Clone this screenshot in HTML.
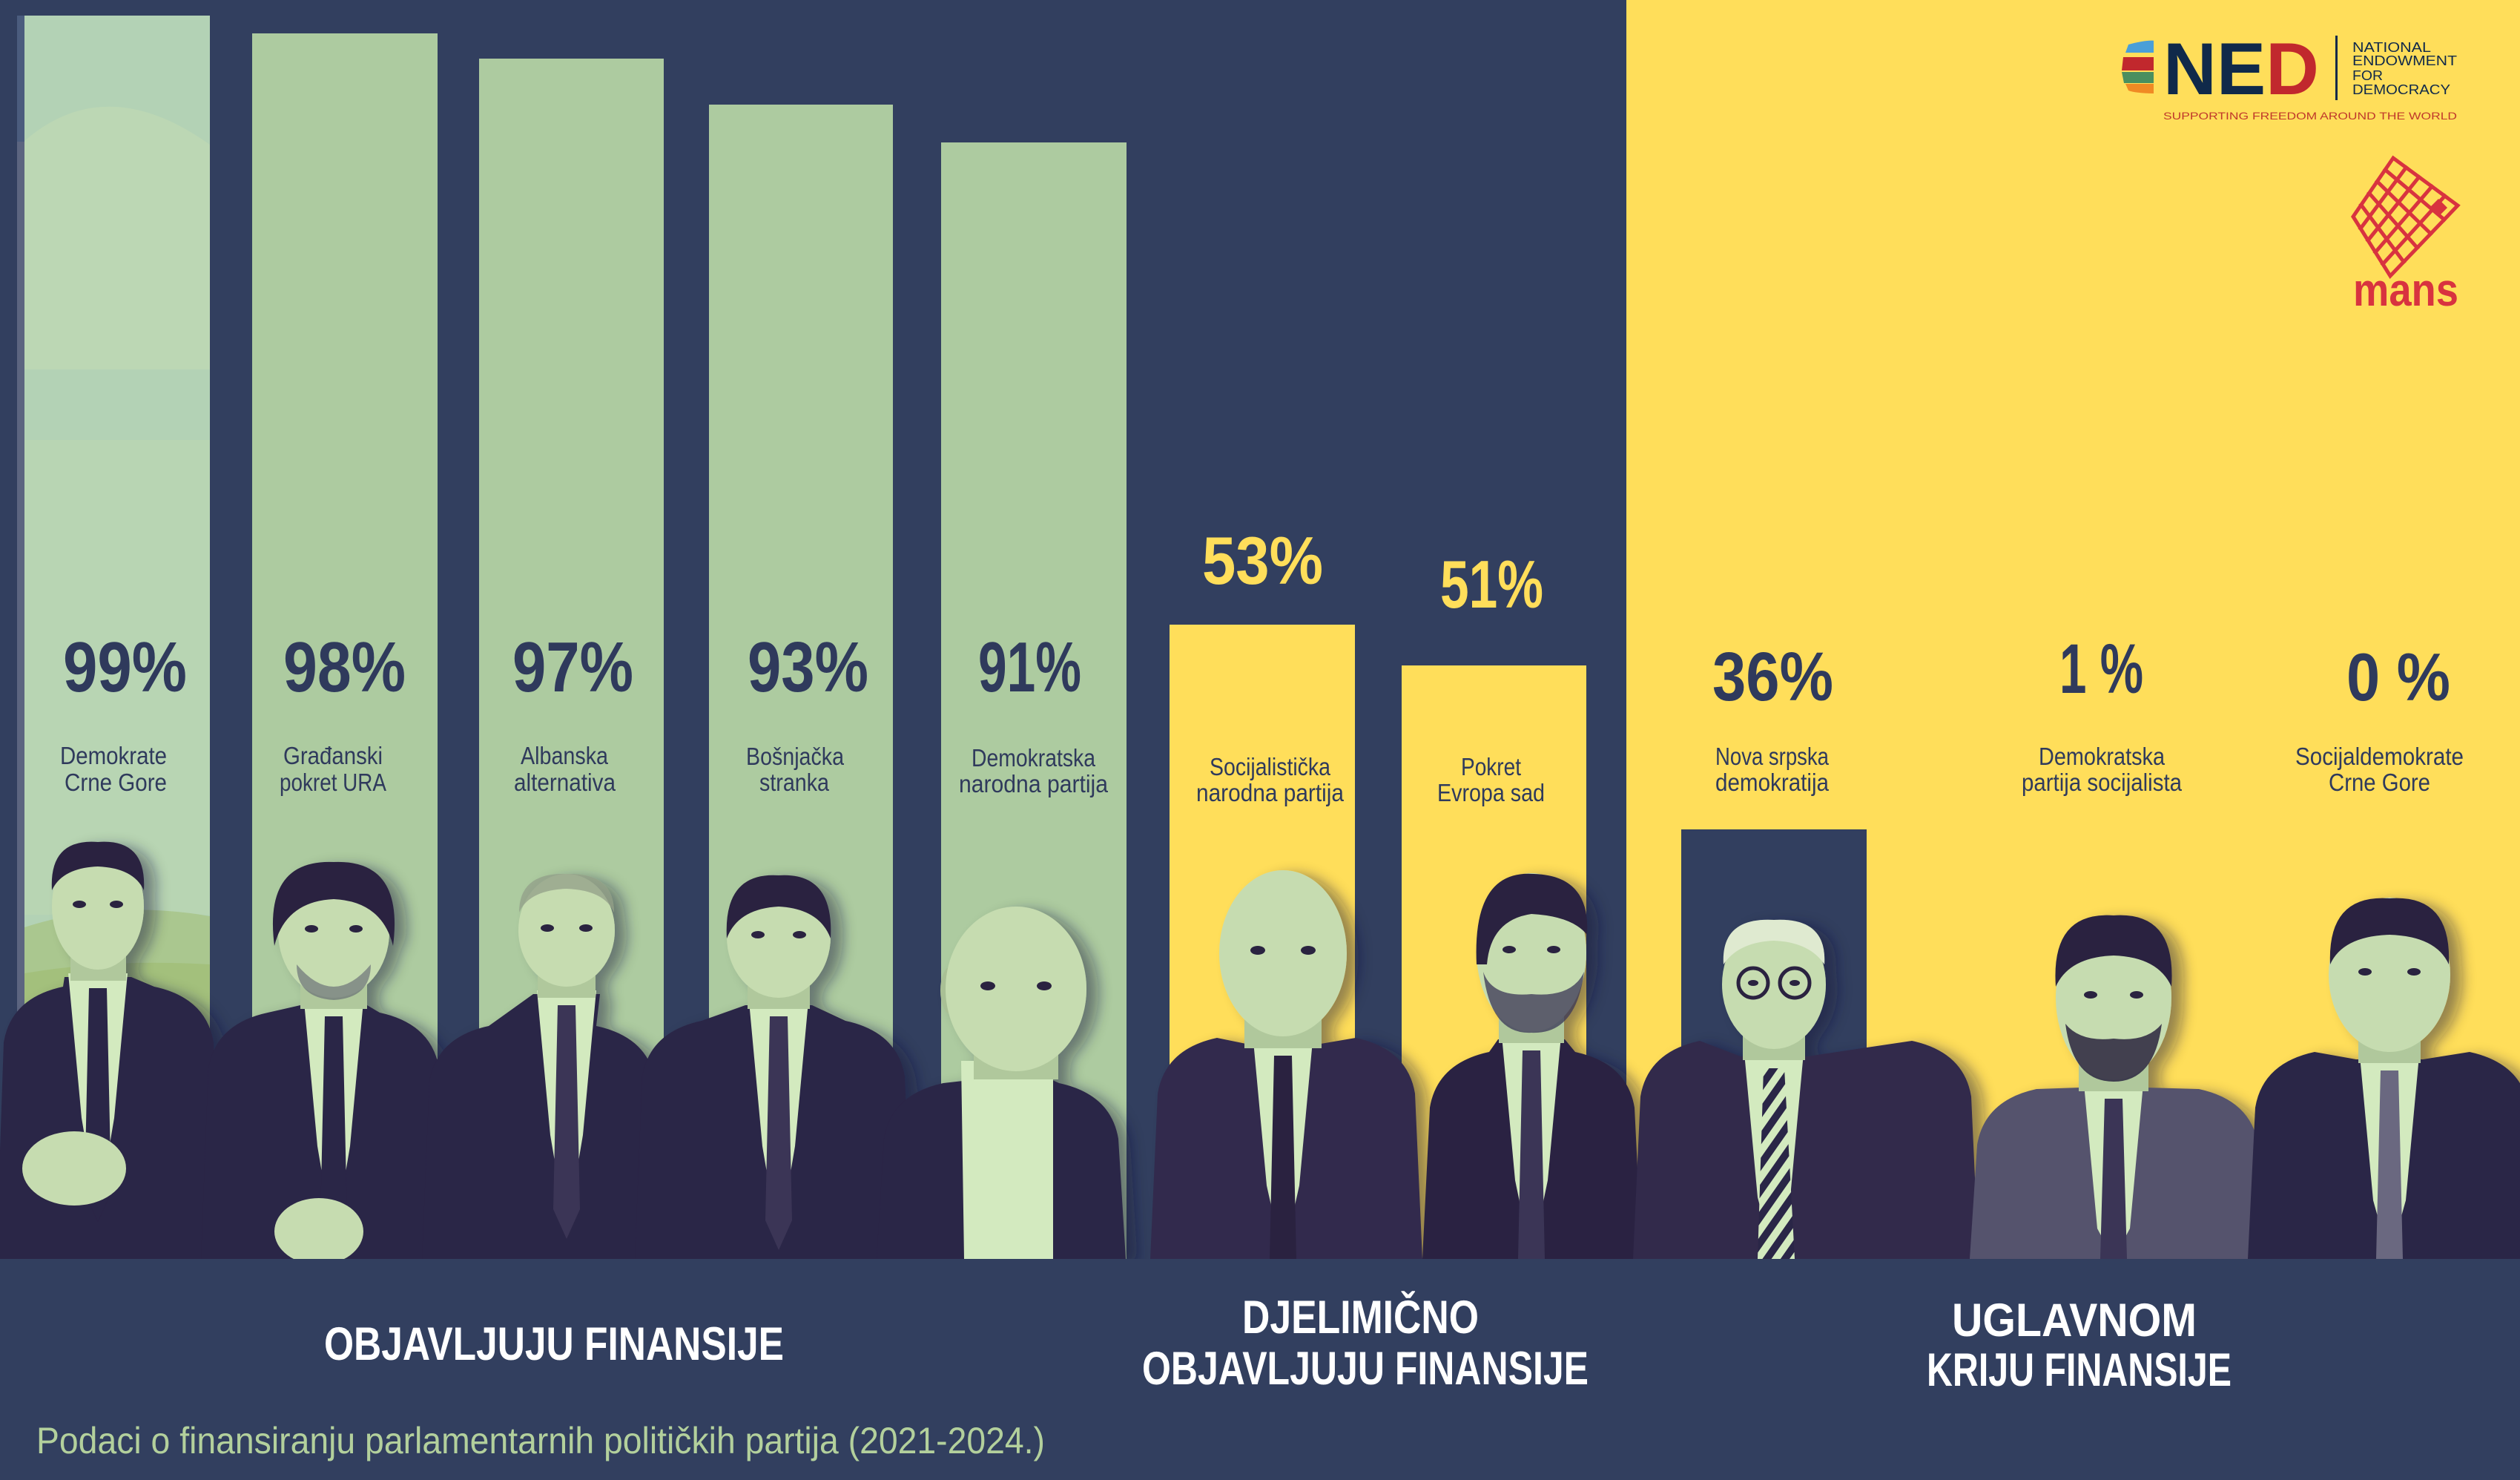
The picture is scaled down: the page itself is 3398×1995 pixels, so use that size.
<!DOCTYPE html>
<html><head><meta charset="utf-8"><style>
html,body{margin:0;padding:0;background:#323f5f;}
svg{display:block;}
</style></head><body>
<svg width="3398" height="1995" viewBox="0 0 3398 1995" xmlns="http://www.w3.org/2000/svg" font-family="'Liberation Sans', sans-serif">
<defs>
<filter id="ds" x="-20%" y="-20%" width="140%" height="140%">
<feDropShadow dx="16" dy="6" stdDeviation="9" flood-color="#1a1b3a" flood-opacity="0.45"/>
</filter>
<pattern id="stripe" width="20" height="20" patternUnits="userSpaceOnUse" patternTransform="rotate(35)">
<rect width="20" height="20" fill="#d3eabf"/><rect width="10" height="20" fill="#2c2546"/>
</pattern>
<clipPath id="globe"><rect x="2860" y="50" width="44" height="82"/></clipPath>
</defs>

<!-- backgrounds -->
<rect x="0" y="0" width="3398" height="1995" fill="#323f5f"/>
<rect x="2193" y="0" width="1205" height="1697" fill="#ffde5a"/>

<!-- bar 1 -->
<rect x="23" y="21" width="10" height="170" fill="#4b5c7e"/>
<rect x="23" y="191" width="10" height="1506" fill="#5c6580"/>
<rect x="33" y="21" width="250" height="1676" fill="#b3d2b5"/>
<path d="M33,190 Q143,95 283,195 L283,498 L33,498 Z" fill="#bcd7b4"/>
<rect x="33" y="593" width="250" height="640" fill="#b8d5b3"/>
<path d="M33,1250 Q150,1212 283,1235 L283,1697 L33,1697 Z" fill="#aac78f"/>
<path d="M33,1312 Q150,1292 283,1300 L283,1697 L33,1697 Z" fill="#a3c07c"/>
<!-- bars 2-5 -->
<rect x="340" y="45" width="250" height="1652" fill="#adcba0"/>
<rect x="646" y="79" width="249" height="1618" fill="#adcba0"/>
<rect x="956" y="141" width="248" height="1556" fill="#adcba0"/>
<rect x="1269" y="192" width="250" height="1505" fill="#adcba0"/>
<!-- yellow bars -->
<rect x="1577" y="842" width="250" height="855" fill="#ffde5a"/>
<rect x="1890" y="897" width="249" height="800" fill="#ffde5a"/>
<!-- navy bar on yellow -->
<rect x="2267" y="1118" width="250" height="579" fill="#323f5f"/>

<!-- percentages -->
<g font-weight="bold" fill="#2f3a5c">
<text x="85" y="932" font-size="96" textLength="167" lengthAdjust="spacingAndGlyphs">99%</text>
<text x="382" y="932" font-size="96" textLength="165" lengthAdjust="spacingAndGlyphs">98%</text>
<text x="691" y="932" font-size="96" textLength="163" lengthAdjust="spacingAndGlyphs">97%</text>
<text x="1008" y="932" font-size="96" textLength="163" lengthAdjust="spacingAndGlyphs">93%</text>
<text x="1319" y="932" font-size="96" textLength="139" lengthAdjust="spacingAndGlyphs">91%</text>
<text x="2309" y="944" font-size="93" textLength="163" lengthAdjust="spacingAndGlyphs">36%</text>
<text x="2777" y="934" font-size="95" textLength="113" lengthAdjust="spacingAndGlyphs">1 %</text>
<text x="3164" y="944" font-size="91" textLength="140" lengthAdjust="spacingAndGlyphs">0 %</text>
</g>
<g font-weight="bold" fill="#ffde5a">
<text x="1621" y="787" font-size="91" textLength="163" lengthAdjust="spacingAndGlyphs">53%</text>
<text x="1942" y="819" font-size="91" textLength="139" lengthAdjust="spacingAndGlyphs">51%</text>
</g>

<!-- labels -->
<g font-size="33" fill="#2f3a5c">
<text x="81" y="1030" textLength="144" lengthAdjust="spacingAndGlyphs">Demokrate</text>
<text x="87" y="1066" textLength="138" lengthAdjust="spacingAndGlyphs">Crne Gore</text>
<text x="382" y="1030" textLength="134" lengthAdjust="spacingAndGlyphs">Građanski</text>
<text x="377" y="1066" textLength="144" lengthAdjust="spacingAndGlyphs">pokret URA</text>
<text x="702" y="1030" textLength="118" lengthAdjust="spacingAndGlyphs">Albanska</text>
<text x="693" y="1066" textLength="137" lengthAdjust="spacingAndGlyphs">alternativa</text>
<text x="1006" y="1031" textLength="132" lengthAdjust="spacingAndGlyphs">Bošnjačka</text>
<text x="1024" y="1066" textLength="94" lengthAdjust="spacingAndGlyphs">stranka</text>
<text x="1310" y="1033" textLength="167" lengthAdjust="spacingAndGlyphs">Demokratska</text>
<text x="1293" y="1068" textLength="201" lengthAdjust="spacingAndGlyphs">narodna partija</text>
<text x="1631" y="1045" textLength="163" lengthAdjust="spacingAndGlyphs">Socijalistička</text>
<text x="1613" y="1080" textLength="199" lengthAdjust="spacingAndGlyphs">narodna partija</text>
<text x="1970" y="1045" textLength="81" lengthAdjust="spacingAndGlyphs">Pokret</text>
<text x="1938" y="1080" textLength="145" lengthAdjust="spacingAndGlyphs">Evropa sad</text>
<text x="2313" y="1031" textLength="153" lengthAdjust="spacingAndGlyphs">Nova srpska</text>
<text x="2313" y="1066" textLength="153" lengthAdjust="spacingAndGlyphs">demokratija</text>
<text x="2749" y="1031" textLength="170" lengthAdjust="spacingAndGlyphs">Demokratska</text>
<text x="2726" y="1066" textLength="216" lengthAdjust="spacingAndGlyphs">partija socijalista</text>
<text x="3095" y="1031" textLength="227" lengthAdjust="spacingAndGlyphs">Socijaldemokrate</text>
<text x="3140" y="1066" textLength="137" lengthAdjust="spacingAndGlyphs">Crne Gore</text>
</g>

<!-- NED logo -->
<g clip-path="url(#globe)">
<circle cx="2905" cy="92" r="42" fill="#ffde5a"/>
<path d="M2870,60 Q2900,52 2910,56 L2910,71 L2866,71 Z" fill="#4a9fd8"/>
<path d="M2863,77 L2910,77 L2910,95 L2861,95 Z" fill="#c1282d"/>
<path d="M2861,97 L2910,97 L2910,112 L2864,112 Z" fill="#4a8f5f"/>
<path d="M2866,113 L2910,113 L2910,126 Q2880,126 2870,122 Z" fill="#f08a24"/>
</g>
<text x="2917" y="127" font-size="99" font-weight="bold" textLength="210" lengthAdjust="spacingAndGlyphs"><tspan fill="#10294a">NE</tspan><tspan fill="#c1282d">D</tspan></text>
<rect x="3149" y="48" width="3" height="87" fill="#10294a"/>
<g font-size="18" fill="#10294a">
<text x="3172" y="70" textLength="106" lengthAdjust="spacingAndGlyphs">NATIONAL</text>
<text x="3172" y="88" textLength="141" lengthAdjust="spacingAndGlyphs">ENDOWMENT</text>
<text x="3172" y="108" textLength="41" lengthAdjust="spacingAndGlyphs">FOR</text>
<text x="3172" y="127" textLength="132" lengthAdjust="spacingAndGlyphs">DEMOCRACY</text>
</g>
<text x="2917" y="161" font-size="14" fill="#c0392b" textLength="396" lengthAdjust="spacingAndGlyphs">SUPPORTING FREEDOM AROUND THE WORLD</text>

<!-- mans logo -->
<g stroke="#d8333f" stroke-width="5" fill="none" stroke-linecap="square">
<path d="M3227,213 L3314,277 L3223,372 L3173,292 Z"/>
<path d="M3216.2,228.8 L3295.8,296 M3205.4,244.6 L3277.6,315 M3194.6,260.4 L3259.4,334 M3183.8,276.2 L3241.2,353"/>
<path d="M3244.4,225.8 L3183,308 M3261.8,238.6 L3193,324 M3279.2,251.4 L3203,340 M3296.6,264.2 L3213,356"/>
</g>
<polygon points="3288,268 3300,280 3288,292 3276,280" fill="#d8333f"/>
<text x="3173" y="412" font-size="62" font-weight="bold" fill="#d8333f" textLength="142" lengthAdjust="spacingAndGlyphs">mans</text>

<!-- people -->
<g filter="url(#ds)">
<!-- P1 -->
<g>
<path d="M-5,1697 L5,1405 Q15,1345 85,1330 L87,1317 L177,1317 L208,1330 Q278,1345 288,1405 L298,1697 Z" fill="#2c2546"/>
<polygon points="92,1312 172,1312 154,1507 132,1637 110,1507" fill="#d3eabf"/>
<polygon points="120,1332 144,1332 150,1607 132,1647 114,1607" fill="#2c2546"/>
<rect x="95" y="1267" width="75" height="55" fill="#b0c89c"/>
<ellipse cx="132" cy="1222" rx="62" ry="85" fill="#c6dcb0"/>
<path d="M70,1200 Q66,1130 132,1135 Q198,1130 194,1200 Q180,1170 132,1168 Q84,1170 70,1200 Z" fill="#2a2340"/>
<ellipse cx="100" cy="1575" rx="70" ry="50" fill="#c6dcb0"/>
</g>
<!-- P2 -->
<g>
<path d="M271,1697 L281,1440 Q291,1380 361,1365 L405,1355 L495,1355 L512,1365 Q582,1380 592,1440 L602,1697 Z" fill="#2c2546"/>
<polygon points="410,1350 490,1350 472,1545 450,1675 428,1545" fill="#d3eabf"/>
<polygon points="438,1370 462,1370 468,1645 450,1685 432,1645" fill="#2c2546"/>
<rect x="405" y="1305" width="90" height="55" fill="#b0c89c"/>
<ellipse cx="450" cy="1256" rx="75" ry="89" fill="#c6dcb0"/>
<path d="M370,1275 Q355,1158 450,1162 Q545,1158 530,1275 Q515,1215 450,1212 Q385,1215 370,1275 Z" fill="#2a2340"/>
<path d="M400,1300 Q450,1360 500,1300 Q500,1345 450,1348 Q400,1345 400,1300 Z" fill="#5d6070" opacity="0.6"/>
<ellipse cx="430" cy="1660" rx="60" ry="45" fill="#c6dcb0"/>
</g>
<!-- P3 -->
<g>
<path d="M569,1697 L579,1458 Q589,1398 659,1383 L719,1340 L809,1340 L804,1383 Q874,1398 884,1458 L894,1697 Z" fill="#2c2546"/>
<polygon points="724,1335 804,1335 786,1530 764,1660 742,1530" fill="#d3eabf"/>
<polygon points="752,1355 776,1355 782,1630 764,1670 746,1630" fill="#3a3556"/>
<rect x="725" y="1290" width="78" height="55" fill="#b0c89c"/>
<ellipse cx="764" cy="1254" rx="65" ry="76" fill="#c6dcb0"/>
<path d="M700,1230 Q700,1176 764,1178 Q828,1176 828,1230 Q815,1200 764,1198 Q713,1200 700,1230 Z" fill="#8e9a86" opacity="0.7"/>
</g>
<!-- P4 -->
<g>
<path d="M856,1697 L866,1451 Q876,1391 946,1376 L1005,1355 L1095,1355 L1140,1376 Q1210,1391 1220,1451 L1230,1697 Z" fill="#2c2546"/>
<polygon points="1010,1350 1090,1350 1072,1545 1050,1675 1028,1545" fill="#d3eabf"/>
<polygon points="1038,1370 1062,1370 1068,1645 1050,1685 1032,1645" fill="#3a3556"/>
<rect x="1008" y="1305" width="84" height="55" fill="#b0c89c"/>
<ellipse cx="1050" cy="1263" rx="70" ry="82" fill="#c6dcb0"/>
<path d="M980,1265 Q975,1175 1050,1180 Q1125,1175 1120,1265 Q1105,1225 1050,1222 Q995,1225 980,1265 Z" fill="#2a2340"/>
</g>
<!-- P5 -->
<g>
<path d="M1182,1697 L1192,1535 Q1202,1475 1272,1460 L1325,1454 L1415,1454 L1428,1460 Q1498,1475 1508,1535 L1518,1697 Z" fill="#2c2546"/>
<polygon points="1296,1430 1420,1430 1420,1697 1300,1697" fill="#d3eabf"/>
<rect x="1313" y="1400" width="114" height="55" fill="#b0c89c"/>
<ellipse cx="1282" cy="1335" rx="14" ry="32" fill="#a9c095"/>
<ellipse cx="1370" cy="1333" rx="95" ry="111" fill="#c6dcb0"/>
</g>
<!-- P6 -->
<g>
<path d="M1551,1697 L1561,1474 Q1571,1414 1641,1399 L1685,1408 L1775,1408 L1828,1399 Q1898,1414 1908,1474 L1918,1697 Z" fill="#322b4d"/>
<polygon points="1690,1403 1770,1403 1752,1598 1730,1697 1708,1598" fill="#d3eabf"/>
<polygon points="1718,1423 1742,1423 1748,1697 1712,1697" fill="#2a2340"/>
<rect x="1678" y="1358" width="104" height="55" fill="#b0c89c"/>
<ellipse cx="1730" cy="1285" rx="86" ry="112" fill="#c6dcb0"/>
</g>
<!-- P7 -->
<g>
<path d="M1918,1697 L1928,1493 Q1938,1433 2008,1418 L2020,1401 L2110,1401 L2124,1418 Q2194,1433 2204,1493 L2214,1697 Z" fill="#2a2342"/>
<polygon points="2025,1396 2105,1396 2087,1591 2065,1697 2043,1591" fill="#d3eabf"/>
<polygon points="2053,1416 2077,1416 2083,1697 2047,1697" fill="#3a3556"/>
<rect x="2021" y="1351" width="88" height="55" fill="#b0c89c"/>
<ellipse cx="2065" cy="1284" rx="74" ry="107" fill="#c6dcb0"/>
<path d="M1991,1300 Q1985,1172 2068,1178 Q2145,1180 2140,1260 Q2120,1235 2065,1232 Q2010,1240 2005,1300 Z" fill="#2a2340"/>
<path d="M2000,1310 Q2010,1395 2065,1392 Q2125,1395 2136,1310 Q2120,1345 2065,1340 Q2012,1345 2000,1310 Z" fill="#3a3556" opacity="0.75"/>
</g>
<!-- P8 -->
<g>
<path d="M2202,1697 L2212,1478 Q2222,1418 2292,1403 L2347,1424 L2437,1424 L2578,1403 Q2648,1418 2658,1478 L2668,1697 Z" fill="#312a4c"/>
<polygon points="2352,1419 2432,1419 2414,1614 2392,1697 2370,1614" fill="#d3eabf"/>
<polygon points="2378,1440 2406,1440 2420,1697 2370,1697" fill="url(#stripe)"/>
<rect x="2350" y="1374" width="84" height="55" fill="#b0c89c"/>
<ellipse cx="2392" cy="1327" rx="70" ry="87" fill="#c6dcb0"/>
<path d="M2324,1300 Q2320,1236 2392,1240 Q2464,1236 2460,1300 Q2440,1270 2392,1268 Q2344,1270 2324,1300 Z" fill="#dfead0"/>
<circle cx="2364" cy="1325" r="20" fill="none" stroke="#2a2340" stroke-width="5"/>
<circle cx="2420" cy="1325" r="20" fill="none" stroke="#2a2340" stroke-width="5"/>
</g>
<!-- P9 -->
<g>
<path d="M2656,1697 L2666,1543 Q2676,1483 2746,1468 L2805,1466 L2895,1466 L2965,1468 Q3035,1483 3045,1543 L3055,1697 Z" fill="#55536d"/>
<polygon points="2810,1461 2890,1461 2872,1656 2850,1697 2828,1656" fill="#d3eabf"/>
<polygon points="2838,1481 2862,1481 2868,1697 2832,1697" fill="#3a3556"/>
<rect x="2803" y="1416" width="94" height="55" fill="#b0c89c"/>
<ellipse cx="2850" cy="1345" rx="78" ry="111" fill="#c6dcb0"/>
<path d="M2772,1330 Q2765,1228 2850,1234 Q2935,1228 2928,1330 Q2910,1290 2850,1288 Q2790,1290 2772,1330 Z" fill="#2a2340"/>
<path d="M2785,1380 Q2795,1458 2850,1458 Q2905,1458 2915,1380 Q2895,1405 2850,1400 Q2805,1405 2785,1380 Z" fill="#2a2340" opacity="0.85"/>
</g>
<!-- P10 -->
<g>
<path d="M3031,1697 L3041,1493 Q3051,1433 3121,1418 L3177,1428 L3267,1428 L3330,1418 Q3400,1433 3410,1493 L3420,1697 Z" fill="#2c2546"/>
<polygon points="3182,1423 3262,1423 3244,1618 3222,1697 3200,1618" fill="#d3eabf"/>
<polygon points="3210,1443 3234,1443 3240,1697 3204,1697" fill="#6a6880"/>
<rect x="3180" y="1378" width="84" height="55" fill="#b0c89c"/>
<ellipse cx="3222" cy="1314" rx="82" ry="104" fill="#c6dcb0"/>
<path d="M3142,1300 Q3138,1205 3222,1211 Q3306,1205 3302,1300 Q3285,1262 3222,1260 Q3159,1262 3142,1300 Z" fill="#2a2340"/>
</g>
</g>
<!-- eyes -->
<g fill="#2a2340">
<ellipse cx="107" cy="1219" rx="9" ry="5"/><ellipse cx="157" cy="1219" rx="9" ry="5"/>
<ellipse cx="420" cy="1252" rx="9" ry="5"/><ellipse cx="480" cy="1252" rx="9" ry="5"/>
<ellipse cx="738" cy="1251" rx="9" ry="5"/><ellipse cx="790" cy="1251" rx="9" ry="5"/>
<ellipse cx="1022" cy="1260" rx="9" ry="5"/><ellipse cx="1078" cy="1260" rx="9" ry="5"/>
<ellipse cx="1332" cy="1329" rx="10" ry="6"/><ellipse cx="1408" cy="1329" rx="10" ry="6"/>
<ellipse cx="1696" cy="1281" rx="10" ry="6"/><ellipse cx="1764" cy="1281" rx="10" ry="6"/>
<ellipse cx="2035" cy="1280" rx="9" ry="5"/><ellipse cx="2095" cy="1280" rx="9" ry="5"/>
<ellipse cx="2364" cy="1325" rx="7" ry="4"/><ellipse cx="2420" cy="1325" rx="7" ry="4"/>
<ellipse cx="2819" cy="1341" rx="9" ry="5"/><ellipse cx="2881" cy="1341" rx="9" ry="5"/>
<ellipse cx="3189" cy="1310" rx="9" ry="5"/><ellipse cx="3255" cy="1310" rx="9" ry="5"/>
</g>

<!-- bottom band -->
<rect x="0" y="1697" width="3398" height="298" fill="#323f5f"/>
<g font-weight="bold" font-size="63" fill="#ffffff">
<text x="437" y="1833" textLength="620" lengthAdjust="spacingAndGlyphs">OBJAVLJUJU FINANSIJE</text>
<text x="1675" y="1797" textLength="319" lengthAdjust="spacingAndGlyphs">DJELIMIČNO</text>
<text x="1540" y="1866" textLength="602" lengthAdjust="spacingAndGlyphs">OBJAVLJUJU FINANSIJE</text>
<text x="2632" y="1801" textLength="330" lengthAdjust="spacingAndGlyphs">UGLAVNOM</text>
<text x="2598" y="1868" textLength="411" lengthAdjust="spacingAndGlyphs">KRIJU FINANSIJE</text>
</g>
<text x="49" y="1959" font-size="50" fill="#b3d09c" textLength="1360" lengthAdjust="spacingAndGlyphs">Podaci o finansiranju parlamentarnih političkih partija (2021-2024.)</text>
</svg>
</body></html>
